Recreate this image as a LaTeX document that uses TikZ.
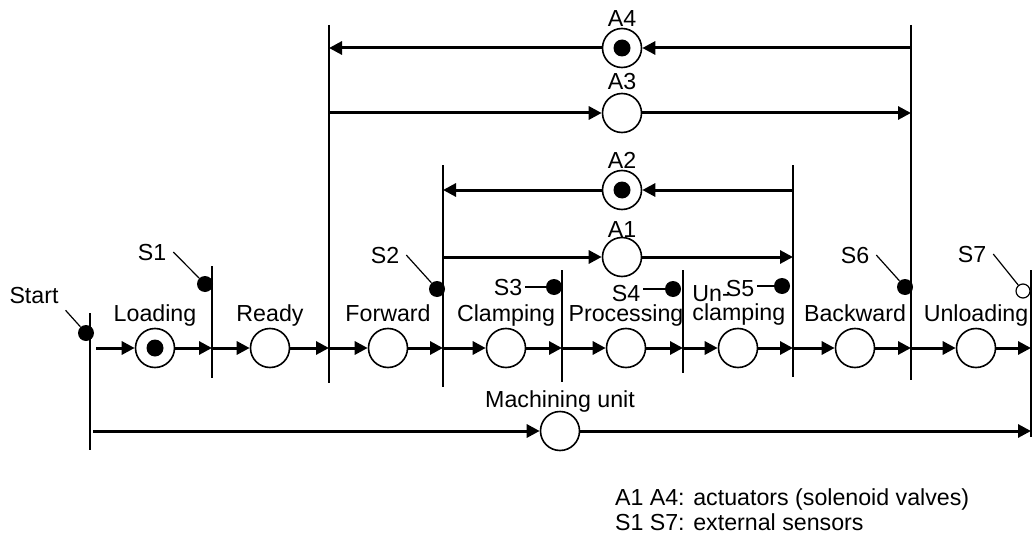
\documentclass[tikz,border=0pt]{standalone}
\usepackage{fontspec}
\setmainfont{Liberation Sans}
\usetikzlibrary{arrows.meta}

\tikzset{
  place/.style={circle,draw,line width=0.8pt,minimum size=19.5pt,inner sep=0pt,fill=white},
  token/.style={circle,fill=black,minimum size=8.5pt,inner sep=0pt},
  sensor/.style={circle,fill=black,minimum size=8pt,inner sep=0pt},
  opensensor/.style={circle,draw,fill=white,line width=0.6pt,minimum size=7pt,inner sep=0pt},
  flow/.style={line width=1.5pt,-{Triangle[length=6.5pt,width=6.5pt]}},
  bar/.style={line width=0.85pt},
  lead/.style={line width=0.6pt},
}

\begin{document}
\begin{tikzpicture}[x=0.5pt,y=-0.5pt,font=\fontsize{11.6pt}{9.5pt}\selectfont]
        \useasboundingbox (0,0) rectangle (1033,535);

        % 定义跃迁（竖线）的端点
        \coordinate (top0) at (90,313);   \coordinate (bot0) at (90,450);
        \coordinate (top1) at (212,266);  \coordinate (bot1) at (212,378);
        \coordinate (top2) at (329,25);   \coordinate (bot2) at (329,383);
        \coordinate (top3) at (443,165);  \coordinate (bot3) at (443,387);
        \coordinate (top4) at (562,270);  \coordinate (bot4) at (562,382);
        \coordinate (top5) at (683,270);  \coordinate (bot5) at (683,373);
        \coordinate (top6) at (793,165);  \coordinate (bot6) at (793,377);
        \coordinate (top7) at (911,25);   \coordinate (bot7) at (911,380);
        \coordinate (top8) at (1031,270); \coordinate (bot8) at (1031,437);
        \foreach \i in {0,...,8}
            \draw[bar] (top\i) -- (bot\i);

        % 主线上的库所
        \foreach \x/\i/\txt in {155/0/Loading,270/1/Ready,388/2/Forward,506/3/Clamping,
                                626/4/Processing,738/5/{},855/6/Backward,976/7/Unloading} {
            \node[place] (p\i) at (\x,348) {};
            \node[anchor=base] (lp\i) at (\x,321) {\txt};
        }
        \node[anchor=north west,align=left,inner sep=0pt] (lunclamp) at (692,285) {Un-\\clamping};
        \node[token] (tok0) at (p0) {};

        % 主线上的弧
        \draw[flow,shorten <=3pt] (top0 |- p0) -- (p0.west);
        \draw[flow] (p0.east) -- (top1 |- p0);
        \foreach \i [count=\j from 2] in {1,...,7} {
            \draw[flow] (top\i |- p\i) -- (p\i.west);
            \draw[flow] (p\i.east) -- (top\j |- p\i);
        }

        % 执行器 A1 -- A4
        \node[place] (a4) at (622,48) {};
        \node[token] (tok4) at (a4) {};
        \node[anchor=base] (la4) at (622,27) {A4};
        \draw[flow] (top7 |- a4) -- (a4.east);
        \draw[flow] (a4.west) -- (top2 |- a4);

        \node[place] (a3) at (622,113) {};
        \node[anchor=base] (la3) at (622,90) {A3};
        \draw[flow] (top2 |- a3) -- (a3.west);
        \draw[flow] (a3.east) -- (top7 |- a3);

        \node[place] (a2) at (622,190) {};
        \node[token] (tok2) at (a2) {};
        \node[anchor=base] (la2) at (622,169) {A2};
        \draw[flow] (top6 |- a2) -- (a2.east);
        \draw[flow] (a2.west) -- (top3 |- a2);

        \node[place] (a1) at (622,257) {};
        \node[anchor=base] (la1) at (622,237) {A1};
        \draw[flow] (top3 |- a1) -- (a1.west);
        \draw[flow] (a1.east) -- (top6 |- a1);

        % 加工单元
        \node[place] (mu) at (560,431) {};
        \node[anchor=base] (lmu) at (560,407) {Machining unit};
        \draw[flow,shorten <=1.5pt] (bot0 |- mu) -- (mu.west);
        \draw[flow] (mu.east) -- (top8 |- mu);

        % 传感器
        \node[anchor=base] (ls0) at (34,303) {Start};
        \node[sensor] (s0) at (86,333) {};
        \draw[lead] (ls0.south east) -- (s0);

        \node[anchor=base] (ls1) at (152,260) {S1};
        \node[sensor] (s1) at (205,284) {};
        \draw[lead] (ls1.east) -- (s1);

        \node[anchor=base] (ls2) at (385,263) {S2};
        \node[sensor] (s2) at (437,289) {};
        \draw[lead] (ls2.east) -- (s2);

        \node[anchor=base] (ls3) at (508,295) {S3};
        \node[sensor] (s3) at (554,287) {};
        \draw[lead,shorten >=-2pt] (s3) -- (s3 -| ls3.east);

        \node[anchor=base] (ls4) at (626,301) {S4};
        \node[sensor] (s4) at (673,289) {};
        \draw[lead,shorten >=-2pt] (s4) -- (s4 -| ls4.east);

        \node[anchor=base] (ls5) at (740,296) {S5};
        \node[sensor] (s5) at (782,286) {};
        \draw[lead,shorten >=-2pt] (s5) -- (s5 -| ls5.east);

        \node[anchor=base] (ls6) at (855,263) {S6};
        \node[sensor] (s6) at (905,287) {};
        \draw[lead] (ls6.east) -- (s6);

        \node[anchor=base] (ls7) at (972,262) {S7};
        \node[opensensor] (s7) at (1023,291) {};
        \draw[lead] (ls7.east) -- (s7);

        % 图例
        \node[anchor=base west] (leg1) at (608,505) {A1 A4: actuators (solenoid valves)};
        \node[anchor=base west] (leg2) at (608,530) {S1 S7: external sensors};
    \end{tikzpicture}
\end{document}
